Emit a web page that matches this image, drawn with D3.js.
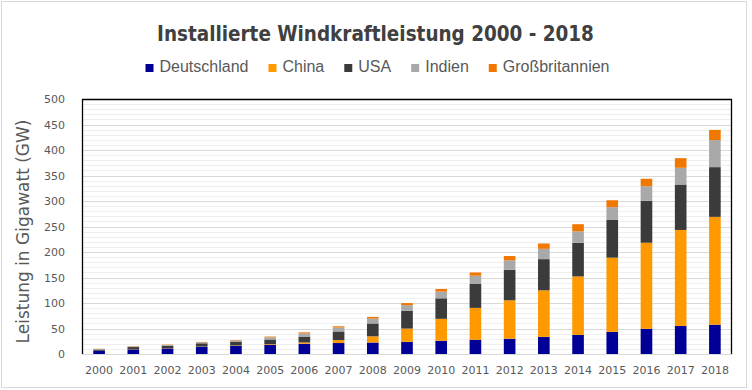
<!DOCTYPE html>
<html><head><meta charset="utf-8">
<script src="https://cdn.jsdelivr.net/npm/d3@7"></script>
<style>body{margin:0;background:#fff}svg{display:block}</style>
</head><body>
<svg id="c" width="752" height="390"></svg>
<script>
const years = ["2000","2001","2002","2003","2004","2005","2006","2007","2008","2009","2010","2011","2012","2013","2014","2015","2016","2017","2018"];
const deutschland = [6, 9, 11, 14, 16, 18, 20, 21.5, 22.5, 24, 26, 28, 30, 33.5, 37.5, 43.5, 49.5, 55, 57.5];
const china = [0.3, 0.4, 0.5, 0.6, 0.8, 1.3, 2.6, 5.9, 12.2, 25.8, 43, 62.4, 75.3, 91.4, 114.6, 145.4, 168.7, 188.2, 211.4];
const usa = [2.5, 4.2, 4.7, 6.4, 6.7, 9.1, 11.6, 16.8, 25.2, 35.1, 40.2, 46.9, 60.0, 61.1, 65.9, 73.9, 82.2, 89.1, 97.5];
const indien = [1.0, 1.4, 1.7, 2.1, 3.0, 4.4, 6.3, 7.8, 9.6, 10.9, 13.1, 16.1, 18.4, 20.2, 22.5, 25.1, 28.7, 32.8, 53];
const grossbritannien = [0.4, 0.5, 0.6, 0.7, 0.9, 1.4, 2.0, 2.4, 3.2, 4.1, 5.2, 6.5, 8.4, 10.5, 14, 13.6, 14.5, 18.9, 20];
const seriesNames = ["Deutschland","China","USA","Indien","Großbritannien"];
const seriesColors = ["#000096","#ff9900","#3b3b3b","#a9a9a9","#f07800"];
const yTicks = [0,50,100,150,200,250,300,350,400,450,500];
const title = "Installierte Windkraftleistung 2000 - 2018";
const yTitle = "Leistung in Gigawatt (GW)";

const svg = d3.select("#c");
const W = 752, H = 390;
const m = {l:82, r:20, t:99, b:36};
const pw = W - m.l - m.r, ph = H - m.t - m.b;

svg.append("rect").attr("x",1.5).attr("y",1.5).attr("width",745).attr("height",386)
  .attr("fill","#fff").attr("stroke","#d9d9d9").attr("stroke-width",1);

const x = d3.scaleBand().domain(years).range([m.l, m.l+pw]).paddingInner(0.66).paddingOuter(0.33);
const y = d3.scaleLinear().domain([0,500]).range([m.t+ph, m.t]);

// grid
const g = svg.append("g");
g.selectAll("line.minor").data(d3.range(0,501,10).filter(v=>v%50!==0)).join("line")
  .attr("x1",m.l).attr("x2",m.l+pw).attr("y1",d=>Math.round(y(d))+0.5).attr("y2",d=>Math.round(y(d))+0.5)
  .attr("stroke","#efefef").attr("stroke-width",1);
g.selectAll("line.major").data(yTicks).join("line")
  .attr("x1",m.l).attr("x2",m.l+pw).attr("y1",d=>Math.round(y(d))+0.5).attr("y2",d=>Math.round(y(d))+0.5)
  .attr("stroke","#d9d9d9").attr("stroke-width",1);

// stacked bars
const table = years.map((yr,i)=>({year:yr, Deutschland:deutschland[i], China:china[i], USA:usa[i], Indien:indien[i], "Großbritannien":grossbritannien[i]}));
const stack = d3.stack().keys(seriesNames)(table);
svg.append("g").selectAll("g").data(stack).join("g")
  .attr("fill",(d,i)=>seriesColors[i])
  .selectAll("rect").data(d=>d).join("rect")
  .attr("x",d=>x(d.data.year)).attr("width",x.bandwidth())
  .attr("y",d=>y(d[1])).attr("height",d=>y(d[0])-y(d[1]));

// frame: left, top, right black
svg.append("path").attr("d",`M${m.l+0.5},${m.t+ph}V${m.t+0.5}H${m.l+pw-0.5}V${m.t+ph}`)
  .attr("fill","none").attr("stroke","#000").attr("stroke-width",1.3);

// y axis labels
const yAxis = d3.axisLeft(y).tickValues(yTicks).tickSize(0).tickPadding(17);
const ya = svg.append("g").attr("transform",`translate(${m.l},0)`).call(yAxis);
ya.select(".domain").remove();
ya.selectAll("text").attr("font-family","DejaVu Sans").attr("font-size",11).attr("fill","#595959");

// x axis labels
const xAxis = d3.axisBottom(x).tickSize(0).tickPadding(12);
const xa = svg.append("g").attr("transform",`translate(0,${m.t+ph})`).call(xAxis);
xa.select(".domain").attr("stroke","#d9d9d9");
xa.selectAll("text").attr("font-family","DejaVu Sans").attr("font-size",11).attr("fill","#595959");

// y title
svg.append("text").attr("transform",`translate(29,${(m.t+m.t+ph)/2+5}) rotate(-90)`)
  .attr("text-anchor","middle").attr("font-family","DejaVu Sans").attr("font-size",17)
  .attr("fill","#595959").text(yTitle);

// title
const t = svg.append("text").attr("x",375.5).attr("y",41).attr("text-anchor","middle")
  .attr("font-family","DejaVu Sans Condensed, DejaVu Sans").attr("font-weight","bold")
  .attr("font-size",21).attr("fill","#404040").text(title);
const tw = t.node().getComputedTextLength();
t.attr("font-size", 21*437/tw);

// legend
const lg = svg.append("g");
const items = seriesNames.map((n,i)=>{
  const it = lg.append("g");
  it.append("rect").attr("width",8).attr("height",8).attr("y",-8).attr("fill",seriesColors[i]);
  const tx = it.append("text").attr("x",14).attr("y",0).attr("font-family","Liberation Sans, Arial")
    .attr("font-size",16).attr("fill","#595959").text(n);
  return {it, w: 14 + tx.node().getComputedTextLength()};
});
const gap = 20;
const total = d3.sum(items,d=>d.w) + gap*(items.length-1);
let cx = 377.5 - total/2;
items.forEach(d=>{ d.it.attr("transform",`translate(${cx},72)`); cx += d.w + gap; });
</script>
</body></html>
